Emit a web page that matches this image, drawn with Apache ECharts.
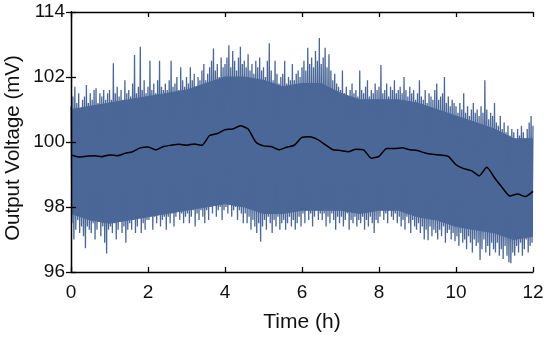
<!DOCTYPE html>
<html>
<head>
<meta charset="utf-8">
<script src="https://cdn.jsdelivr.net/npm/echarts@6/dist/echarts.min.js"></script>
<style>html,body{margin:0;padding:0;background:#fff}#c{width:550px;height:339px}</style>
</head>
<body>
<div id="c"></div>
<script>
// Tick labels
const xTicks = [0, 2, 4, 6, 8, 10, 12];
const yTickLabels = ['96', '98', '100', '102', '114'];

// Solid (merged) part of the noisy band, every 0.5 h (0 .. 12)
const coreTimes = [0,0.5,1,1.5,2,2.5,3,3.5,4,4.5,5,5.5,6,6.5,7,7.5,8,8.5,9,9.5,10,10.5,11,11.5,12];
const coreHigh = [101.0,101.1,101.2,101.3,101.4,101.5,101.6,101.8,102.0,102.0,101.9,101.7,101.8,101.8,101.5,101.3,101.3,101.3,101.2,101.0,100.8,100.6,100.4,100.1,100.1];
const coreLow  = [97.8,97.6,97.5,97.6,97.7,97.8,97.9,98.0,98.1,98.0,97.8,97.8,97.9,97.9,97.9,97.8,97.9,97.9,97.7,97.6,97.4,97.3,97.2,97.0,97.1];

// Upper spike tips, every 0.05 h starting at 0 h
const spikeHigh = [
101.1,101.4,101.7,101.2,101.5,101.0,101.3,101.4,101.75,101.2,
101.5,101.3,101.6,101.65,101.2,101.5,101.4,101.6,101.3,101.5,
101.6,101.3,102.42,101.5,101.7,101.4,101.6,101.3,101.9,101.5,
101.6,101.4,101.8,102.68,101.5,101.7,102.93,101.6,101.9,101.5,
101.7,102.5,101.6,101.8,101.5,101.9,102.5,101.7,101.6,101.8,
101.6,101.9,102.5,101.7,101.8,102.0,101.6,102.3,101.9,101.7,
102.0,101.8,102.3,101.9,102.1,101.7,102.0,101.9,102.2,102.4,
101.9,102.1,102.3,102.5,102.88,102.2,102.4,102.0,102.6,102.3,
102.4,102.6,102.98,102.3,102.8,102.5,102.2,102.6,102.93,102.4,
102.5,102.3,102.7,102.2,102.4,102.1,102.5,102.3,102.6,102.2,
102.3,102.0,102.5,103.04,102.2,101.9,102.5,102.1,101.8,102.0,
102.1,102.5,101.8,102.0,101.9,102.4,101.9,102.1,102.2,102.0,
102.3,102.5,102.2,102.9,102.4,102.6,102.3,102.8,102.5,103.2,
102.4,102.6,102.9,102.3,102.7,102.2,101.9,102.1,101.8,101.7,
101.6,102.2,101.5,101.7,101.4,101.6,101.8,101.5,101.6,101.4,
102.2,101.6,101.5,101.7,101.9,101.4,101.6,101.5,101.8,101.6,
101.7,102.37,101.5,101.6,101.8,101.4,101.7,101.6,101.9,101.5,
101.6,101.7,101.5,102.0,101.6,101.4,101.7,101.5,101.6,101.3,
101.5,101.9,101.4,101.3,101.6,101.2,101.5,101.4,101.3,101.6,
101.8,101.3,101.4,101.5,102.0,101.2,101.4,101.1,101.3,101.2,
101.1,100.9,101.2,101.0,101.5,100.9,101.1,100.8,101.0,101.2,
100.9,101.0,100.8,101.1,100.9,101.9,101.0,100.7,100.9,100.8,
101.2,100.6,100.5,100.8,100.4,100.6,100.3,100.5,100.2,100.4,
100.3,100.1,100.4,100.2,100.5,100.3,100.1,100.4,100.6,100.8,
100.5];

// Lower spike tips, every 0.05 h starting at 0.025 h
const spikeLow = [
97.5,97.0,97.3,97.6,97.2,97.4,97.1,96.73,97.4,97.3,
97.2,97.5,97.0,97.3,97.6,97.1,97.4,96.9,96.57,97.3,
97.4,97.2,97.5,97.0,97.3,97.6,97.2,97.4,96.9,97.3,
97.5,97.3,97.6,97.2,97.4,97.7,97.2,97.5,97.3,97.6,
97.6,97.8,97.3,97.7,97.5,97.8,97.4,97.6,97.7,97.3,
97.7,97.5,97.8,97.4,97.7,97.9,97.6,97.8,97.5,97.7,
97.8,97.5,97.7,97.9,97.4,97.8,97.6,97.9,97.7,97.5,
97.9,97.6,98.0,97.8,98.1,97.7,97.9,98.0,97.6,97.9,
98.0,97.8,98.1,97.7,97.9,98.0,97.6,97.9,97.8,97.5,
97.8,97.5,97.7,97.3,97.6,97.4,97.2,97.5,96.93,97.4,
97.6,97.3,97.7,97.5,97.2,97.6,97.4,97.7,97.3,97.5,
97.6,97.3,97.5,97.7,97.4,97.6,97.3,97.5,97.7,97.4,
97.8,97.5,97.9,97.6,97.8,97.4,97.7,97.9,97.6,97.8,
97.6,97.8,97.4,97.7,97.5,97.8,97.6,97.3,97.7,97.5,
97.7,97.4,97.6,97.8,97.3,97.6,97.5,97.7,97.4,97.6,
97.5,97.7,97.3,97.6,97.4,97.7,97.5,97.2,97.6,97.5,
97.7,97.9,97.6,97.8,97.5,97.9,97.7,97.6,97.8,97.5,
97.7,97.4,97.6,97.3,97.7,97.5,97.2,97.6,97.4,97.3,
97.5,97.2,97.4,97.0,97.3,96.98,97.4,97.1,97.3,97.2,
97.0,97.3,97.1,97.4,96.9,97.2,97.3,97.0,97.2,96.95,
97.1,96.8,97.2,96.9,97.0,96.7,97.1,96.9,96.6,97.0,
96.8,96.9,96.37,96.7,97.0,96.6,96.8,96.5,96.9,96.7,
96.6,96.9,96.5,96.7,96.4,96.8,96.5,96.3,96.27,96.6,
96.5,96.8,96.6,96.9,96.5,96.7,97.0,96.6,96.8,96.9];

// Smoothed (mean) voltage, every 0.2 h
const meanVoltage = [
99.60,99.54,99.56,99.58,99.55,99.60,99.58,99.65,99.70,99.82,
99.85,99.76,99.86,99.90,99.93,99.90,99.94,99.90,100.20,100.26,
100.38,100.40,100.50,100.40,100.00,99.88,99.86,99.76,99.84,99.90,
100.14,100.16,100.08,99.92,99.76,99.74,99.70,99.78,99.76,99.50,
99.56,99.80,99.80,99.82,99.76,99.74,99.66,99.62,99.60,99.56,
99.30,99.18,99.12,98.96,99.22,98.90,98.60,98.34,98.40,98.32,
98.48];

const BLUE = '#4a6797';
const FONT = '"Liberation Sans", Arial, sans-serif';

const coreHiData = coreTimes.map((t, i) => [t, coreHigh[i]]);
const coreLoData = coreTimes.map((t, i) => [t, coreLow[i]]);
const zigzag = [];
for (let i = 0; i < spikeHigh.length; i++) {
  zigzag.push([+(i * 0.05).toFixed(3), spikeHigh[i]]);
  if (i < spikeLow.length) zigzag.push([+(i * 0.05 + 0.025).toFixed(3), spikeLow[i]]);
}
const meanData = meanVoltage.map((v, i) => [+(i * 0.2).toFixed(2), v]);

const axisLine = { show: true, lineStyle: { color: '#000', width: 1.3 } };
const axisTick = { show: true, inside: true, length: 5, lineStyle: { color: '#000', width: 1.3 } };

const chart = echarts.init(document.getElementById('c'), null, { renderer: 'canvas' });
chart.setOption({
  animation: false,
  backgroundColor: '#fff',
  grid: { left: 71, right: 17, top: 12, bottom: 67, containLabel: false, outerBoundsMode: 'none' },
  xAxis: [
    { type: 'value', min: 0, max: 12, interval: 2, position: 'bottom', z: 10,
      name: 'Time (h)', nameLocation: 'middle', nameGap: 40, nameMoveOverlap: false,
      nameTextStyle: { color: '#111', fontSize: 21, fontFamily: FONT },
      axisLine, axisTick, splitLine: { show: false },
      axisLabel: { color: '#111', fontSize: 19, fontFamily: FONT, margin: 11,
        formatter: v => xTicks.includes(v) ? String(v) : '' } },
    { type: 'value', min: 0, max: 12, interval: 2, position: 'top', z: 10,
      axisLine, axisTick, splitLine: { show: false }, axisLabel: { show: false } }
  ],
  yAxis: [
    { type: 'value', min: 96, max: 104, interval: 2, position: 'left', z: 10,
      name: 'Output Voltage (mV)', nameLocation: 'middle', nameGap: 47, nameMoveOverlap: false,
      nameTextStyle: { color: '#111', fontSize: 20.5, fontFamily: FONT, padding: [0, 12, 0, 0] },
      axisLine, axisTick, splitLine: { show: false },
      axisLabel: { color: '#111', fontSize: 19, fontFamily: FONT, margin: 6,
        formatter: v => yTickLabels[Math.round((v - 96) / 2)] } },
    { type: 'value', min: 96, max: 104, interval: 2, position: 'right', z: 10,
      axisLine, axisTick, splitLine: { show: false }, axisLabel: { show: false } }
  ],
  series: [
    { type: 'line', data: coreHiData, symbol: 'none',
      lineStyle: { color: BLUE, width: 1 }, areaStyle: { color: BLUE, opacity: 1, origin: 'start' }, z: 1, silent: true },
    { type: 'line', data: coreLoData, symbol: 'none',
      lineStyle: { color: BLUE, width: 1 }, areaStyle: { color: '#fff', opacity: 1, origin: 'start' }, z: 2, silent: true },
    { type: 'line', data: zigzag, symbol: 'none', sampling: null,
      lineStyle: { color: BLUE, width: 1.3 }, z: 3, silent: true },
    { type: 'line', data: meanData, symbol: 'none', smooth: 0.2,
      lineStyle: { color: '#000', width: 1.5 }, z: 4, silent: true }
  ]
});
</script>
</body>
</html>
